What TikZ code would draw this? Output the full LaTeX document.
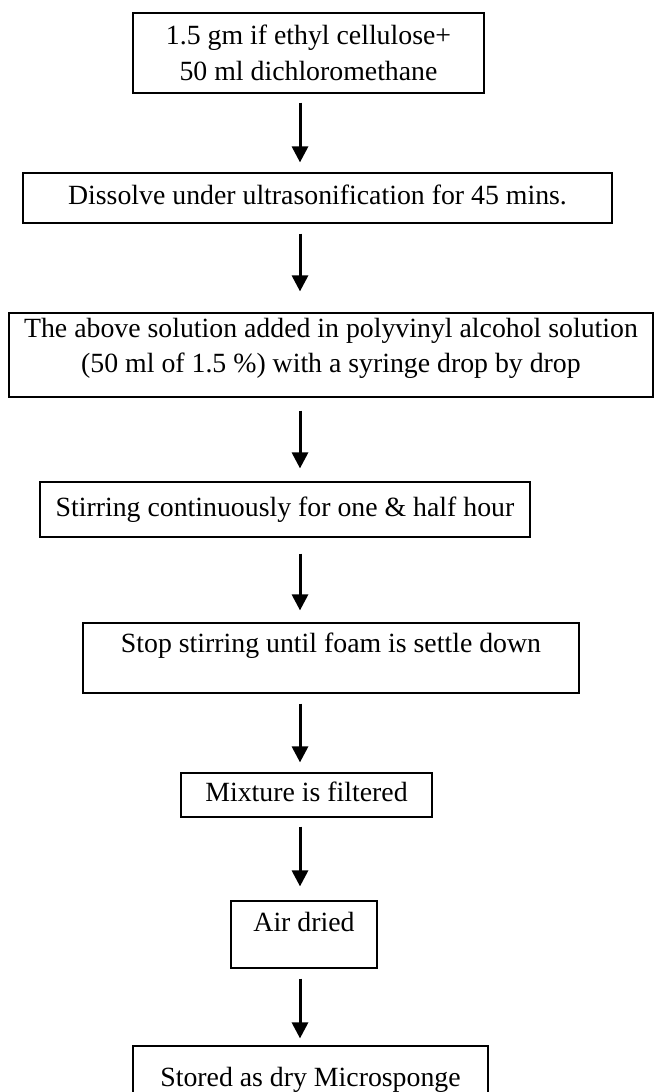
\documentclass[tikz,border=0pt]{standalone}
\usepackage{fontspec}
\setmainfont{Liberation Serif}
\usetikzlibrary{arrows.meta}
\begin{document}
\begin{tikzpicture}[x=1pt,y=-1pt,
  box/.style={draw,line width=1.2pt,inner sep=0pt,align=center,
    font=\fontsize{27.8}{35.5}\selectfont},
  one/.style={text height=19pt,text depth=6pt},
  arr/.style={line width=3pt,-{Triangle[width=16pt,length=16pt]}}]
\fill[white] (0,0) rectangle (661,1092);
\useasboundingbox (0,0) rectangle (661,1092);
\coordinate (ax) at (300,0);
\node[box,minimum width=351pt,minimum height=80pt] (b1) at (308.5,53)
  {1.5 gm if ethyl cellulose+\\50 ml dichloromethane};
\node[box,one,minimum width=589pt,minimum height=50pt] (b2) at (317.5,198)
  {Dissolve under ultrasonification for 45 mins.};
\node[box,minimum width=644pt,minimum height=84pt,text height=41pt,text depth=6pt] (b3) at (331,355)
  {The above solution added in polyvinyl alcohol solution\\(50 ml of 1.5 \%) with a syringe drop by drop};
\node[box,one,minimum width=490pt,minimum height=55pt] (b4) at (285,509.5)
  {Stirring continuously for one \& half hour};
\node[box,one,minimum width=496pt,minimum height=70pt] (b5) at (331,658)
  {\raisebox{12pt}{Stop stirring until foam is settle down}};
\node[box,one,minimum width=251pt,minimum height=44pt] (b6) at (306.5,795)
  {Mixture is filtered};
\node[box,one,minimum width=146pt,minimum height=67pt] (b7) at (304,934.5)
  {\raisebox{10pt}{Air dried}};
\node[box,one,minimum width=355pt,minimum height=68pt] (b8) at (310.5,1080)
  {Stored as dry Microsponge};
\draw[arr,shorten <=9pt,shorten >=10pt] (b1.south -| ax) -- (b2.north -| ax);
\draw[arr,shorten <=10pt,shorten >=21pt] (b2.south -| ax) -- (b3.north -| ax);
\draw[arr,shorten <=13pt,shorten >=13pt] (b3.south -| ax) -- (b4.north -| ax);
\draw[arr,shorten <=16pt,shorten >=12pt] (b4.south -| ax) -- (b5.north -| ax);
\draw[arr,shorten <=10pt,shorten >=10pt] (b5.south -| ax) -- (b6.north -| ax);
\draw[arr,shorten <=9pt,shorten >=14pt] (b6.south -| ax) -- (b7.north -| ax);
\draw[arr,shorten <=10pt,shorten >=7pt] (b7.south -| ax) -- (b8.north -| ax);
\end{tikzpicture}
\end{document}
